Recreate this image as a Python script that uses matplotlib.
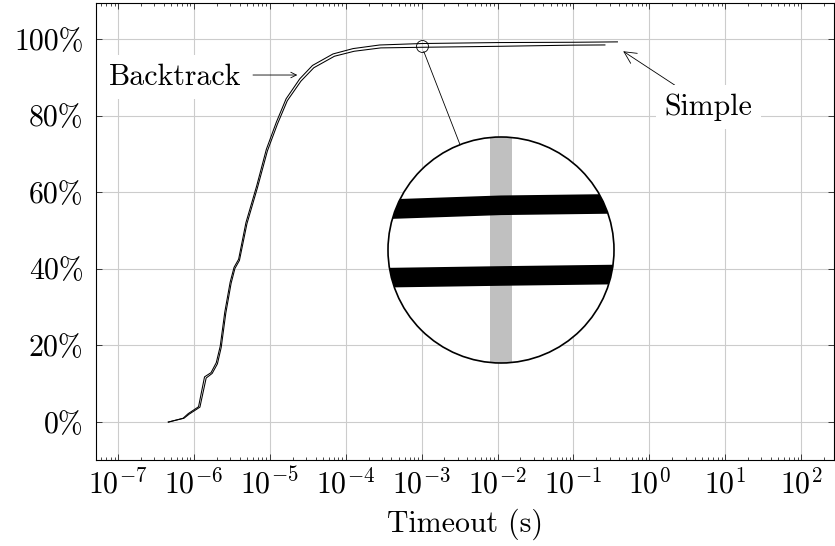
import numpy as np
import matplotlib
matplotlib.use("Agg")
import matplotlib.pyplot as plt
from matplotlib.patches import Circle
from matplotlib.lines import Line2D
from matplotlib.ticker import LogLocator, FuncFormatter, NullFormatter

plt.rcParams['font.family'] = 'serif'
plt.rcParams['font.serif'] = ['cmr10']
plt.rcParams['mathtext.fontset'] = 'cm'
plt.rcParams['axes.formatter.use_mathtext'] = True

# data (fraction of instances solved vs timeout)
timeout_backtrack = [4.6e-7, 7.4e-7, 8.7e-7, 1.2e-6, 1.45e-6, 1.74e-6, 2.04e-6, 2.29e-6,
                     2.63e-6, 3.09e-6, 3.47e-6, 3.98e-6, 5.0e-6, 6.9e-6, 9.3e-6, 1.26e-5,
                     1.7e-5, 2.57e-5, 3.8e-5, 7.1e-5, 1.29e-4, 2.9e-4, 1e-3, 1e-2, 1e-1, 0.26]
solved_backtrack = [0, 1.0, 2.1, 3.9, 11.5, 12.7, 15.2, 19.5,
                    28.4, 36.2, 40.1, 42.2, 51.8, 61.3, 70.8, 77.8,
                    83.9, 89.0, 92.5, 95.5, 96.8, 97.68, 97.84, 98.09, 98.4, 98.45]

timeout_simple = [4.6e-7, 7.2e-7, 8.4e-7, 1.15e-6, 1.38e-6, 1.68e-6, 1.97e-6, 2.22e-6,
                  2.55e-6, 3.0e-6, 3.38e-6, 3.88e-6, 4.85e-6, 6.7e-6, 9.0e-6, 1.22e-5,
                  1.64e-5, 2.48e-5, 3.65e-5, 6.8e-5, 1.25e-4, 2.8e-4, 1e-3, 1e-2, 1e-1, 0.38]
solved_simple = [0, 1.0, 2.2, 4.0, 11.8, 12.9, 15.5, 19.8,
                 28.7, 36.5, 40.4, 42.5, 52.1, 61.6, 71.2, 78.3,
                 84.4, 89.6, 93.1, 96.1, 97.5, 98.44, 98.82, 99.07, 99.15, 99.25]

x_ticks = [1e-7, 1e-6, 1e-5, 1e-4, 1e-3, 1e-2, 1e-1, 1e0, 1e1, 1e2]
y_ticks = [0, 20, 40, 60, 80, 100]

# zoom spot
spot_x, spot_y = 1e-3, 98.2

W, H = 835, 546
fig = plt.figure(figsize=(W / 100, H / 100), dpi=100)
ax = fig.add_axes([96 / W, 1 - 460 / H, (834 - 96) / W, (460 - 3) / H])

ax.plot(timeout_backtrack, solved_backtrack, color='k', lw=0.75, zorder=3)
ax.plot(timeout_simple, solved_simple, color='k', lw=0.75, zorder=3)

ax.set_xscale('log')
ax.set_xlim(10 ** -7.29, 10 ** 2.433)
ax.set_ylim(-9.9, 109.4)
ax.set_xticks(x_ticks)
ax.xaxis.set_major_formatter(FuncFormatter(lambda v, p: r'$10^{%d}$' % round(np.log10(v))))
ax.xaxis.set_minor_locator(LogLocator(base=10, subs=np.arange(2, 10), numticks=40))
ax.xaxis.set_minor_formatter(NullFormatter())
ax.set_yticks(y_ticks)
ax.yaxis.set_major_formatter(FuncFormatter(lambda v, p: f'{v:.0f}%'))

ax.tick_params(which='both', direction='in', top=True, right=True, width=0.5, color='k')
ax.tick_params(which='major', length=4.3, labelsize=21.5)
ax.tick_params(which='minor', length=2.2)
ax.tick_params(axis='y', pad=9)
ax.tick_params(axis='x', pad=6)
ax.grid(True, which='major', color='#cccccc', lw=0.8)
ax.set_axisbelow(True)
for s in ax.spines.values():
    s.set_linewidth(0.8)
ax.set_xlabel('Timeout (s)', fontsize=21.5, labelpad=6.5)

# labels
ax.annotate('Simple', xy=(0.437, 97.0), xytext=(6.0, 82.2), ha='center', va='center',
            fontsize=21.5, bbox=dict(fc='white', ec='none', pad=6),
            arrowprops=dict(arrowstyle='->', lw=0.6, color='k', shrinkA=0, shrinkB=1))
ax.text(5.6e-7, 90.1, 'Backtrack', ha='center', va='center', fontsize=21.5,
        bbox=dict(fc='white', ec='none', pad=6), zorder=4)
ax.annotate('', xy=(2.3e-5, 90.6), xytext=(6.0e-6, 90.6),
            arrowprops=dict(arrowstyle='->', lw=0.6, color='k', shrinkA=0, shrinkB=0))

# small spy circle
ax.plot([spot_x], [spot_y], marker='o', ms=8.6, mfc='none', mec='k', mew=0.6, zorder=5)

# magnified view
cx, cy, r = 501, 250, 113
r_small = 6
mag = r / r_small
axm = fig.add_axes([(cx - r) / W, 1 - (cy + r) / H, 2 * r / W, 2 * r / H])
axm.set_xscale('log')
half_dec = r_small / 75.9
half_pct = r_small / 3.83
axm.set_xlim(spot_x * 10 ** -half_dec, spot_x * 10 ** half_dec)
axm.set_ylim(spot_y - half_pct, spot_y + half_pct)
axm.axis('off')

disk = Circle((0.5, 0.5), 0.5, transform=axm.transAxes, fc='white', ec='none', zorder=0)
axm.add_patch(disk)
band = axm.axvline(spot_x, color='#c0c0c0', lw=0.8 * mag * 1.05, zorder=1)
band.set_clip_path(disk)
for xs, ys in [(timeout_backtrack, solved_backtrack), (timeout_simple, solved_simple)]:
    ln, = axm.plot(xs, ys, color='k', lw=0.75 * mag, zorder=2, solid_capstyle='butt')
    ln.set_clip_path(disk)
rim = Circle((0.5, 0.5), 0.5, transform=axm.transAxes, fill=False, ec='k', lw=1.2,
             zorder=5, clip_on=False)
axm.add_patch(rim)

# connector between spy circle and magnified view
p1 = ax.transData.transform((spot_x, spot_y))
p2 = axm.transAxes.transform((0.5, 0.5))
u = (p2 - p1) / np.hypot(*(p2 - p1))
a = fig.transFigure.inverted().transform(p1 + u * r_small)
b = fig.transFigure.inverted().transform(p2 - u * r)
fig.add_artist(Line2D([a[0], b[0]], [a[1], b[1]], transform=fig.transFigure, color='k', lw=0.6))

fig.savefig('out.png', dpi=100)
